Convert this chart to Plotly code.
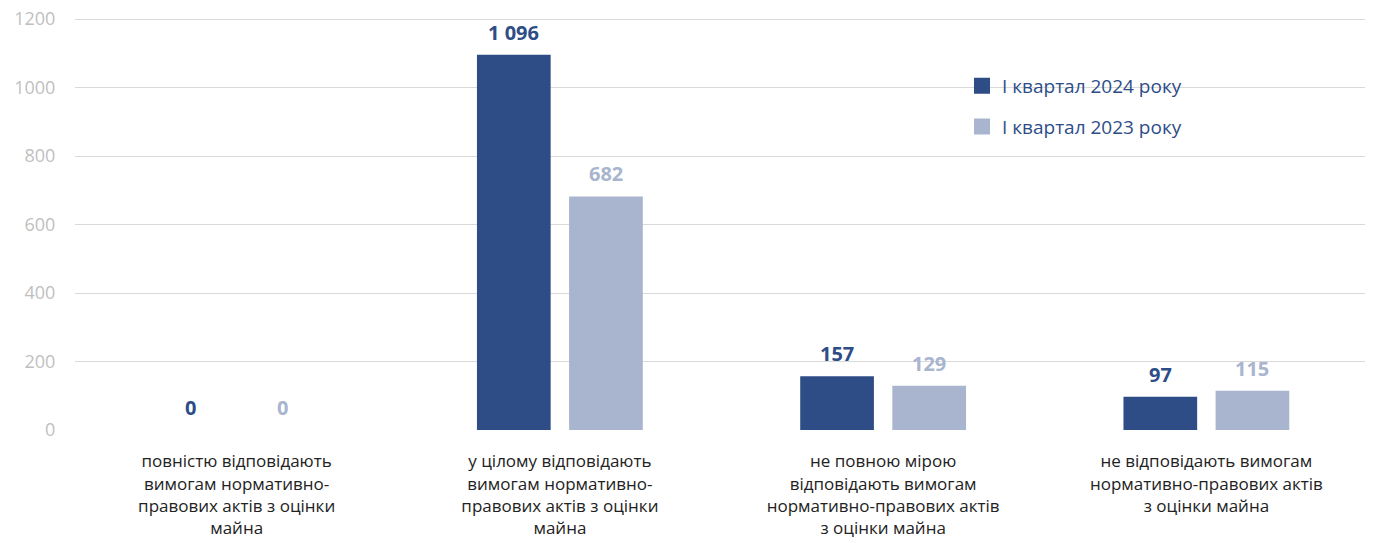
import plotly.graph_objects as go

categories = [
    "повністю відповідають<br>вимогам нормативно-<br>правових актів з оцінки<br>майна",
    "у цілому відповідають<br>вимогам нормативно-<br>правових актів з оцінки<br>майна",
    "не повною мірою<br>відповідають вимогам<br>нормативно-правових актів<br>з оцінки майна",
    "не відповідають вимогам<br>нормативно-правових актів<br>з оцінки майна",
]
series_2024 = [0, 1096, 157, 97]
series_2023 = [0, 682, 129, 115]
name_2024 = "I квартал 2024 року"
name_2023 = "I квартал 2023 року"
y_ticks = [0, 200, 400, 600, 800, 1000, 1200]

dark = "#2E4D87"
light = "#A9B5CE"


def fmt(v):
    return f"{v:,}".replace(",", " ")


fig = go.Figure()
fig.add_trace(go.Bar(
    x=categories, y=series_2024, name=name_2024, marker_color=dark,
    marker_line_width=0, showlegend=False,
))
fig.add_trace(go.Bar(
    x=categories, y=series_2023, name=name_2023, marker_color=light,
    marker_line_width=0, showlegend=False,
))
# legend entries with larger square symbols
for nm, col in [(name_2024, dark), (name_2023, light)]:
    fig.add_trace(go.Scatter(
        x=[categories[0]], y=[None], mode="markers", name=nm,
        marker=dict(symbol="square", size=18, color=col), legendgroup=nm,
    ))

# value labels
for vals, col, shift in [(series_2024, dark, -46), (series_2023, light, 46)]:
    for c, v in zip(categories, vals):
        fig.add_annotation(
            x=c, y=v, text=f"<b>{fmt(v)}</b>", showarrow=False,
            xshift=shift, yanchor="bottom", yshift=7,
            font=dict(family="Open Sans", size=20, color=col),
        )

fig.update_layout(
    width=1365, height=535,
    margin=dict(l=67, r=5, t=6, b=113),
    paper_bgcolor="white", plot_bgcolor="white",
    barmode="group", bargap=0.43, bargroupgap=0.2,
    font=dict(family="Open Sans", color="#222222"),
    showlegend=True,
    legend=dict(
        x=0.686, y=0.873, xanchor="left", yanchor="top",
        font=dict(family="Open Sans", size=19, color=dark),
        tracegroupgap=13, traceorder="grouped", itemwidth=30,
        bgcolor="rgba(0,0,0,0)",
    ),
)
fig.update_yaxes(
    range=[0, 1215], tickvals=y_ticks, showgrid=True, gridcolor="#D9D9D9", gridwidth=1,
    zeroline=False, showline=False, automargin=False, ticklabeloverflow="allow",
    tickfont=dict(family="Open Sans", size=18, color="#BFBFBF"),
    ticks="outside", ticklen=15, tickcolor="rgba(0,0,0,0)",
)
fig.update_xaxes(
    showline=False, showgrid=False, automargin=False,
    tickfont=dict(family="Open Sans", size=17, color="#222222"),
    ticks="outside", ticklen=16, tickcolor="rgba(0,0,0,0)",
)

fig.write_html("out.html")
